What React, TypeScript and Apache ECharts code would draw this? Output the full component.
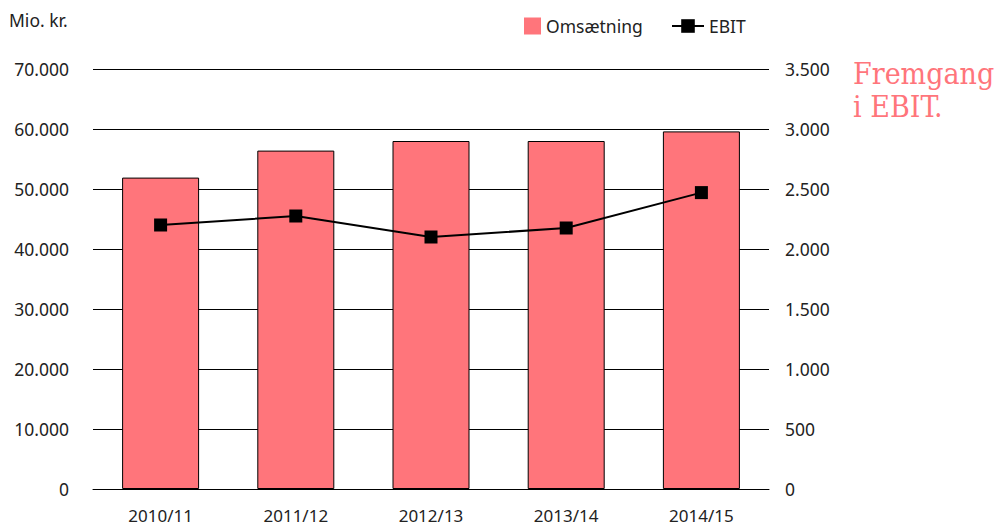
import React, { useEffect, useRef } from "react";
import * as echarts from "echarts";

const categories = ["2010/11", "2011/12", "2012/13", "2013/14", "2014/15"];
const omsaetning = [51900, 56400, 58000, 58000, 59600];
const ebit = [2200, 2275, 2100, 2175, 2470];
const unitLabel = "Mio. kr.";
const noteLines = ["Fremgang", "i EBIT."];

const PINK = "#ff757b";
const TEXT = "#222222";
const FONT = "'Noto Sans', sans-serif";
const FS = 17.5;

const fmt = (v: number) => String(Math.round(v)).replace(/\B(?=(\d{3})+(?!\d))/g, ".");

export default function App() {
  const ref = useRef<HTMLDivElement>(null);
  useEffect(() => {
    if (!ref.current) return;
    const chart = echarts.init(ref.current, undefined, { renderer: "svg" });
    chart.setOption({
      animation: false,
      backgroundColor: "#ffffff",
      textStyle: { fontFamily: FONT },
      grid: { left: 93, right: 230, top: 69, bottom: 41, containLabel: false },
      legend: [
        {
          data: ["Omsætning"],
          left: 519,
          top: 12,
          itemWidth: 17,
          itemHeight: 17,
          itemGap: 10,
          textStyle: { fontFamily: FONT, fontSize: FS, color: TEXT },
          icon: "rect",
          itemStyle: { borderWidth: 0 },
        },
        {
          data: ["EBIT"],
          left: 666,
          top: 12,
          itemWidth: 32,
          itemHeight: 17,
          textStyle: { fontFamily: FONT, fontSize: FS, color: TEXT },
        },
      ],
      xAxis: {
        type: "category",
        data: categories,
        axisLine: { show: true, lineStyle: { color: "#000", width: 1 } },
        axisTick: { show: false },
        axisLabel: { color: TEXT, fontSize: 17, margin: 18, fontFamily: FONT },
      },
      yAxis: [
        {
          type: "value",
          min: 0,
          max: 70000,
          interval: 10000,
          axisLine: { show: false },
          axisTick: { show: false },
          axisLabel: { color: TEXT, fontSize: FS, margin: 24, formatter: fmt, fontFamily: FONT },
          splitLine: { show: true, lineStyle: { color: "#000", width: 1 } },
        },
        {
          type: "value",
          min: 0,
          max: 3500,
          interval: 500,
          axisLine: { show: false },
          axisTick: { show: false },
          axisLabel: { color: TEXT, fontSize: FS, margin: 16, formatter: fmt, fontFamily: FONT },
          splitLine: { show: false },
        },
      ],
      series: [
        {
          name: "Omsætning",
          type: "bar",
          data: omsaetning,
          barWidth: 77,
          itemStyle: { color: PINK, borderColor: "#000", borderWidth: 1 },
          z: 2,
        },
        {
          name: "EBIT",
          type: "line",
          yAxisIndex: 1,
          data: ebit,
          symbol: "rect",
          symbolSize: 13,
          lineStyle: { color: "#000", width: 2 },
          itemStyle: { color: "#000" },
          z: 3,
        },
      ],
      graphic: [
        {
          type: "text",
          left: 9,
          top: 11,
          style: { text: unitLabel, fontSize: FS, fill: TEXT, fontFamily: FONT },
        },
        {
          type: "text",
          left: 853,
          top: 57,
          style: {
            text: noteLines.join("\n"),
            fontSize: 30,
            lineHeight: 33,
            fill: PINK,
            fontFamily: "'DejaVu Serif Condensed', 'DejaVu Serif', serif",
          },
        },
      ],
    });
    return () => chart.dispose();
  }, []);
  return <div ref={ref} style={{ width: 999, height: 530, position: "absolute", left: 0, top: 0 }} />;
}
